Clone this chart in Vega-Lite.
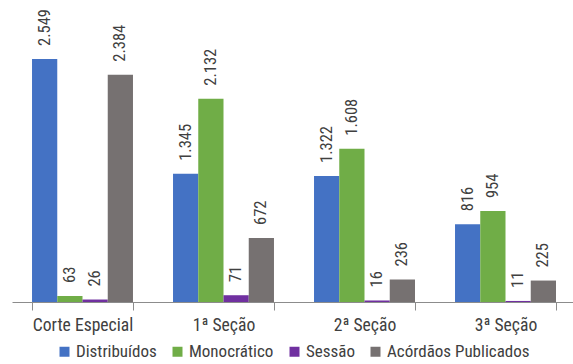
{
  "$schema": "https://vega.github.io/schema/vega-lite/v6.json",
  "width": 564,
  "height": 286,
  "autosize": "none",
  "padding": {"left": 12, "top": 16, "right": 0, "bottom": 62},
  "background": "white",
  "config": {
    "view": {"stroke": null},
    "locale": {"number": {"decimal": ",", "thousands": ".", "grouping": [3], "currency": ["R$", ""]}},
    "font": "Liberation Sans Narrow, Arial Narrow, Roboto Condensed, sans-serif"
  },
  "data": {
    "values": [
      {"categoria": "Corte Especial", "serie": "Distribuídos", "valor": 2549},
      {"categoria": "Corte Especial", "serie": "Monocrático", "valor": 63},
      {"categoria": "Corte Especial", "serie": "Sessão", "valor": 26},
      {"categoria": "Corte Especial", "serie": "Acórdãos Publicados", "valor": 2384},
      {"categoria": "1ª Seção", "serie": "Distribuídos", "valor": 1345},
      {"categoria": "1ª Seção", "serie": "Monocrático", "valor": 2132},
      {"categoria": "1ª Seção", "serie": "Sessão", "valor": 71},
      {"categoria": "1ª Seção", "serie": "Acórdãos Publicados", "valor": 672},
      {"categoria": "2ª Seção", "serie": "Distribuídos", "valor": 1322},
      {"categoria": "2ª Seção", "serie": "Monocrático", "valor": 1608},
      {"categoria": "2ª Seção", "serie": "Sessão", "valor": 16},
      {"categoria": "2ª Seção", "serie": "Acórdãos Publicados", "valor": 236},
      {"categoria": "3ª Seção", "serie": "Distribuídos", "valor": 816},
      {"categoria": "3ª Seção", "serie": "Monocrático", "valor": 954},
      {"categoria": "3ª Seção", "serie": "Sessão", "valor": 11},
      {"categoria": "3ª Seção", "serie": "Acórdãos Publicados", "valor": 225}
    ]
  },
  "encoding": {
    "x": {
      "field": "categoria",
      "type": "nominal",
      "sort": ["Corte Especial", "1ª Seção", "2ª Seção", "3ª Seção"],
      "scale": {"paddingInner": 0.284, "paddingOuter": 0.142},
      "axis": {
        "title": null,
        "labelAngle": 0,
        "tickBand": "extent",
        "tickSize": 8,
        "tickColor": "#8c8c8c",
        "domainColor": "#8c8c8c",
        "labelFontSize": 17.6,
        "labelColor": "#404040",
        "labelPadding": 6
      }
    },
    "xOffset": {
      "field": "serie",
      "type": "nominal",
      "sort": ["Distribuídos", "Monocrático", "Sessão", "Acórdãos Publicados"],
      "scale": {"paddingInner": 0, "paddingOuter": 0}
    },
    "y": {
      "field": "valor",
      "type": "quantitative",
      "scale": {"domain": [0, 3000]},
      "axis": null
    }
  },
  "layer": [
    {
      "mark": {"type": "bar"},
      "encoding": {
        "color": {
          "field": "serie",
          "type": "nominal",
          "sort": ["Distribuídos", "Monocrático", "Sessão", "Acórdãos Publicados"],
          "scale": {
            "domain": ["Distribuídos", "Monocrático", "Sessão", "Acórdãos Publicados"],
            "range": ["#4472C4", "#70AD47", "#7030A0", "#767171"]
          },
          "legend": {
            "title": null,
            "orient": "none",
            "direction": "horizontal",
            "legendX": 44,
            "legendY": 327,
            "padding": 0,
            "symbolType": "square",
            "symbolSize": 100,
            "symbolStrokeWidth": 0,
            "labelFontSize": 17,
            "labelColor": "#404040",
            "labelOffset": 3,
            "columnPadding": 12
          }
        }
      }
    },
    {
      "mark": {
        "type": "text",
        "angle": -90,
        "align": "left",
        "baseline": "middle",
        "dx": 13,
        "fontSize": 16.5,
        "color": "#404040"
      },
      "encoding": {
        "text": {"field": "valor", "type": "quantitative", "format": ",d"}
      }
    }
  ]
}
